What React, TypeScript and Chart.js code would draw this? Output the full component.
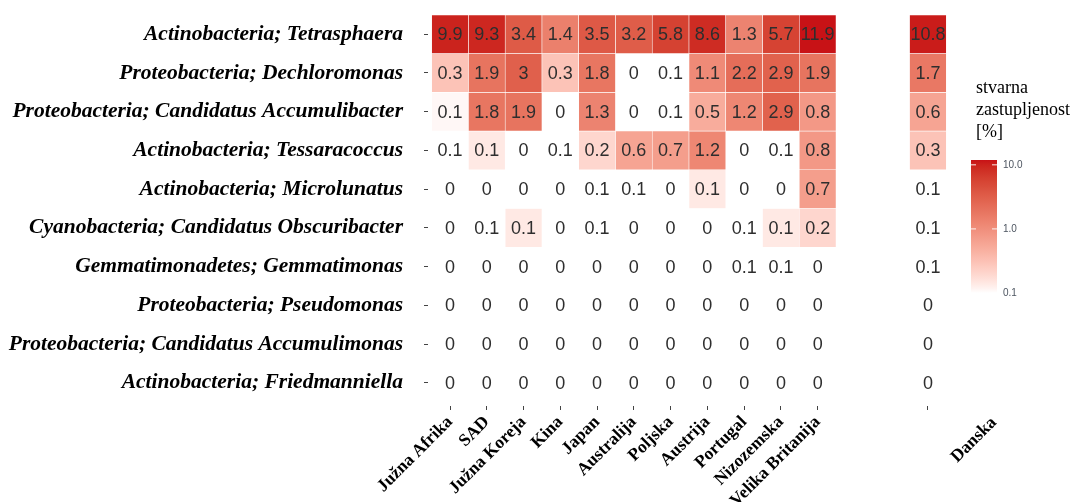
import React, { useEffect, useRef } from "react";
import { Chart, registerables } from "chart.js";

Chart.register(...registerables);

// ---------- data ----------
const rowLabels = [
  "Actinobacteria; Tetrasphaera",
  "Proteobacteria; Dechloromonas",
  "Proteobacteria; Candidatus Accumulibacter",
  "Actinobacteria; Tessaracoccus",
  "Actinobacteria; Microlunatus",
  "Cyanobacteria; Candidatus Obscuribacter",
  "Gemmatimonadetes; Gemmatimonas",
  "Proteobacteria; Pseudomonas",
  "Proteobacteria; Candidatus Accumulimonas",
  "Actinobacteria; Friedmanniella",
];

const countries = [
  "Južna Afrika",
  "SAD",
  "Južna Koreja",
  "Kina",
  "Japan",
  "Australija",
  "Poljska",
  "Austrija",
  "Portugal",
  "Nizozemska",
  "Velika Britanija",
];
const sideLabel = "Danska";
const xLabels = [...countries, "", "", sideLabel];

// values per genus for the 11 countries (values < 0.1 print as 0.1 but fall under the colour scale)
const tetrasphaera = [9.9, 9.3, 3.4, 1.4, 3.5, 3.2, 5.8, 8.6, 1.3, 5.7, 11.9];
const dechloromonas = [0.3, 1.9, 3, 0.3, 1.8, 0, 0.08, 1.1, 2.2, 2.9, 1.9];
const accumulibacter = [0.11, 1.8, 1.9, 0, 1.3, 0, 0.08, 0.5, 1.2, 2.9, 0.8];
const tessaracoccus = [0.08, 0.14, 0, 0.08, 0.2, 0.6, 0.7, 1.2, 0, 0.08, 0.8];
const microlunatus = [0, 0, 0, 0, 0.08, 0.08, 0, 0.14, 0, 0, 0.7];
const obscuribacter = [0, 0.08, 0.14, 0, 0.08, 0, 0, 0, 0.08, 0.14, 0.2];
const gemmatimonas = [0, 0, 0, 0, 0, 0, 0, 0, 0.08, 0.08, 0];
const pseudomonas = [0, 0, 0, 0, 0, 0, 0, 0, 0, 0, 0];
const accumulimonas = [0, 0, 0, 0, 0, 0, 0, 0, 0, 0, 0];
const friedmanniella = [0, 0, 0, 0, 0, 0, 0, 0, 0, 0, 0];

// Danska, one value per genus (top to bottom)
const danska = [10.8, 1.7, 0.6, 0.3, 0.08, 0.08, 0.08, 0, 0, 0];

const countryMatrix = [
  tetrasphaera,
  dechloromonas,
  accumulibacter,
  tessaracoccus,
  microlunatus,
  obscuribacter,
  gemmatimonas,
  pseudomonas,
  accumulimonas,
  friedmanniella,
];

const legendTitle = ["stvarna", "zastupljenost", "[%]"];
const legendTicks = [10, 1, 0.1];
const scaleMin = 0.1;
const scaleMax = 11.9;

function cellValues(r: number): (number | null)[] {
  return [...countryMatrix[r], null, null, danska[r]];
}

function fmt(v: number): string {
  return String(parseFloat(v.toFixed(1)));
}

// ---------- colour scale (Lab interpolation white -> red) ----------
const HIGH = [200, 18, 22];
function toLin(c: number) {
  c /= 255;
  return c <= 0.04045 ? c / 12.92 : Math.pow((c + 0.055) / 1.055, 2.4);
}
function fromLin(c: number) {
  const v = c <= 0.0031308 ? 12.92 * c : 1.055 * Math.pow(c, 1 / 2.4) - 0.055;
  return Math.max(0, Math.min(255, Math.round(v * 255)));
}
const D = 6 / 29;
function f(t: number) {
  return t > D * D * D ? Math.cbrt(t) : t / (3 * D * D) + 4 / 29;
}
function finv(t: number) {
  return t > D ? t * t * t : 3 * D * D * (t - 4 / 29);
}
function rgbToLab(rgb: number[]) {
  const r = toLin(rgb[0]), g = toLin(rgb[1]), b = toLin(rgb[2]);
  const X = (0.4124564 * r + 0.3575761 * g + 0.1804375 * b) / 0.95047;
  const Y = 0.2126729 * r + 0.7151522 * g + 0.072175 * b;
  const Z = (0.0193339 * r + 0.119192 * g + 0.9503041 * b) / 1.08883;
  const fx = f(X), fy = f(Y), fz = f(Z);
  return [116 * fy - 16, 500 * (fx - fy), 200 * (fy - fz)];
}
function labToRgb(lab: number[]) {
  const fy = (lab[0] + 16) / 116;
  const fx = fy + lab[1] / 500;
  const fz = fy - lab[2] / 200;
  const X = finv(fx) * 0.95047, Y = finv(fy), Z = finv(fz) * 1.08883;
  const r = 3.2404542 * X - 1.5371385 * Y - 0.4985314 * Z;
  const g = -0.969266 * X + 1.8760108 * Y + 0.041556 * Z;
  const b = 0.0556434 * X - 0.2040259 * Y + 1.0572252 * Z;
  return [fromLin(r), fromLin(g), fromLin(b)];
}
const LAB_LOW = rgbToLab([255, 255, 255]);
const LAB_HIGH = rgbToLab(HIGH);
function tFor(v: number) {
  const lo = Math.log10(scaleMin), hi = Math.log10(scaleMax);
  return Math.max(0, Math.min(1, (Math.log10(v) - lo) / (hi - lo)));
}
function colorAt(t: number) {
  const tt = Math.pow(t, 0.85);
  const lab = LAB_LOW.map((l, i) => l + (LAB_HIGH[i] - l) * tt);
  const [r, g, b] = labToRgb(lab);
  return `rgb(${r},${g},${b})`;
}
function colorFor(v: number): string {
  if (!(v >= scaleMin)) return "rgba(255,255,255,0)";
  return colorAt(tFor(v));
}

// ---------- plugins ----------
const SERIF = "'Liberation Serif', 'Times New Roman', serif";
const SANS = "'Liberation Sans', Arial, sans-serif";

const cellTextPlugin = {
  id: "cellText",
  afterDatasetsDraw(chart: any) {
    const { ctx, scales } = chart;
    const x = scales.x, y = scales.y;
    ctx.save();
    ctx.font = `18px ${SANS}`;
    ctx.fillStyle = "#2e2e2e";
    ctx.textAlign = "center";
    ctx.textBaseline = "middle";
    rowLabels.forEach((_, r) => {
      cellValues(r).forEach((v, c) => {
        if (v == null) return;
        ctx.fillText(fmt(v), x.getPixelForValue(c), y.getPixelForValue(r) + 1);
      });
    });
    ctx.restore();
  },
};

const legendPlugin = {
  id: "colorLegend",
  afterDraw(chart: any) {
    const { ctx } = chart;
    ctx.save();
    // side panel label (its own facet, set off to the right of the tick)
    const xs = chart.scales.x;
    ctx.fillStyle = "#000";
    ctx.font = `bold 17.5px ${SERIF}`;
    ctx.save();
    ctx.translate(xs.getPixelForValue(xLabels.indexOf(sideLabel)) + 66, 420);
    ctx.rotate(-Math.PI / 4);
    ctx.textAlign = "right";
    ctx.textBaseline = "middle";
    ctx.fillText(sideLabel, 0, 0);
    ctx.restore();

    ctx.fillStyle = "#000";
    ctx.font = `18px ${SERIF}`;
    ctx.textAlign = "left";
    ctx.textBaseline = "middle";
    legendTitle.forEach((t, i) => ctx.fillText(t, 976, 88 + i * 22));

    const left = 971, width = 26, top = 160, bottom = 293;
    const grad = ctx.createLinearGradient(0, bottom, 0, top);
    for (let i = 0; i <= 30; i++) grad.addColorStop(i / 30, colorAt(i / 30));
    ctx.fillStyle = grad;
    ctx.fillRect(left, top, width, bottom - top);

    const lo = Math.log10(scaleMin), hi = Math.log10(scaleMax);
    ctx.font = `10px ${SANS}`;
    legendTicks.forEach((v) => {
      const yy = bottom - ((Math.log10(v) - lo) / (hi - lo)) * (bottom - top);
      ctx.strokeStyle = "rgba(255,255,255,0.9)";
      ctx.lineWidth = 1;
      ctx.beginPath();
      ctx.moveTo(left, yy);
      ctx.lineTo(left + 5, yy);
      ctx.moveTo(left + width - 5, yy);
      ctx.lineTo(left + width, yy);
      ctx.stroke();
      ctx.fillStyle = "#4d5560";
      ctx.fillText(v.toFixed(1), left + width + 6, yy);
    });
    ctx.restore();
  },
};

// ---------- component ----------
export default function App() {
  const canvasRef = useRef<HTMLCanvasElement | null>(null);

  useEffect(() => {
    const canvas = canvasRef.current;
    if (!canvas) return;

    const datasets = rowLabels.map((name, r) => {
      const data: any[] = [];
      cellValues(r).forEach((v, c) => {
        if (v != null && v >= scaleMin) data.push({ x: c, y: [r - 0.5, r + 0.5], v });
      });
      return {
        label: name,
        data,
        backgroundColor: (ctx: any) => colorFor(ctx.raw ? ctx.raw.v : 0),
        borderColor: "#ffffff",
        borderWidth: 0.6,
        borderSkipped: false,
        grouped: false,
        categoryPercentage: 1,
        barPercentage: 1,
      };
    });

    const zeroPad = (scale: any) => {
      scale.paddingTop = 0;
      scale.paddingBottom = 0;
      scale.paddingLeft = 0;
      scale.paddingRight = 0;
    };

    const chart = new Chart(canvas, {
      type: "bar",
      data: { datasets },
      options: {
        responsive: false,
        animation: false,
        events: [],
        layout: { padding: { top: 11, right: 127, left: 0, bottom: 0 } },
        plugins: {
          legend: { display: false },
          tooltip: { enabled: false },
        },
        scales: {
          x: {
            type: "linear",
            offset: false,
            min: -0.6,
            max: xLabels.length - 0.4,
            afterBuildTicks: (scale: any) => {
              scale.ticks = xLabels
                .map((l, i) => ({ l, i }))
                .filter((o) => o.l !== "")
                .map((o) => ({ value: o.i }));
            },
            afterFit: (scale: any) => {
              scale.height = 96;
              zeroPad(scale);
            },
            ticks: {
              autoSkip: false,
              minRotation: 45,
              maxRotation: 45,
              padding: 2,
              color: "#000",
              font: { family: SERIF, size: 17.5, weight: "bold" },
              callback: (v: any) => (xLabels[v] === sideLabel ? "" : xLabels[v] ?? ""),
            },
            grid: {
              display: true,
              offset: false,
              drawOnChartArea: false,
              drawTicks: true,
              tickLength: 4,
              tickColor: "#444",
              tickWidth: 1,
            },
            border: { display: false },
          },
          y: {
            type: "linear",
            reverse: true,
            offset: false,
            min: -0.6,
            max: rowLabels.length - 0.4,
            afterBuildTicks: (scale: any) => {
              scale.ticks = rowLabels.map((_, i) => ({ value: i }));
            },
            afterFit: (scale: any) => {
              scale.width = 428;
              zeroPad(scale);
            },
            ticks: {
              autoSkip: false,
              padding: 21,
              color: "#000",
              font: { family: SERIF, size: 21.5, weight: "bold", style: "italic" },
              callback: (v: any) => rowLabels[v] ?? "",
            },
            grid: {
              display: true,
              offset: false,
              drawOnChartArea: false,
              drawTicks: true,
              tickLength: 4,
              tickColor: "#444",
              tickWidth: 1,
            },
            border: { display: false },
          },
        },
      } as any,
      plugins: [cellTextPlugin, legendPlugin],
    });

    return () => chart.destroy();
  }, []);

  return (
    <div style={{ position: "fixed", left: 0, top: 0, width: 1077, height: 502, background: "#fff" }}>
      <canvas ref={canvasRef} width={1077} height={502} style={{ display: "block" }} />
    </div>
  );
}
